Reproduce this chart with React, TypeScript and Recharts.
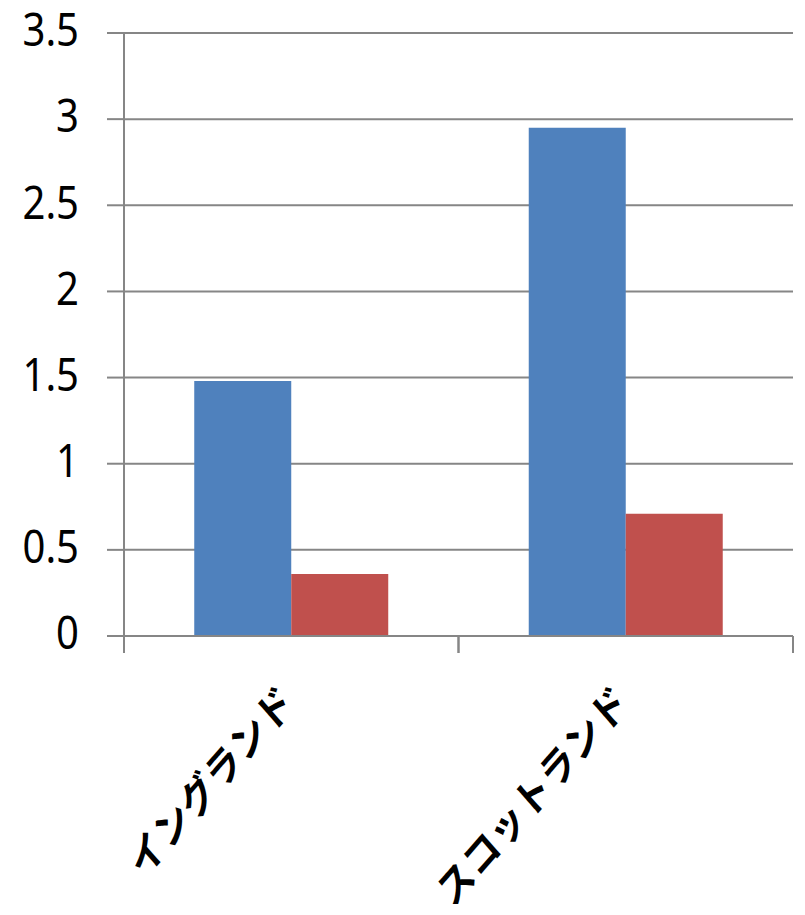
import React from "react";
import { BarChart, Bar, XAxis, YAxis, CartesianGrid } from "recharts";

const categories = ["イングランド", "スコットランド"];
const seriesA = [1.48, 2.95];
const seriesB = [0.36, 0.71];
const yTicks = [0, 0.5, 1, 1.5, 2, 2.5, 3, 3.5];

const data = categories.map((name, i) => ({ name, a: seriesA[i], b: seriesB[i] }));

const AXIS = "#868686";
const STRETCH = 1.14;

const CatTick = (props: any) => {
  const { x, y, payload } = props;
  const off = payload.offset || 0;
  const ax = x + 5;
  const ay = y + 52;
  return (
    <g>
      <line x1={x - off} x2={x - off} y1={y - 17} y2={y} stroke={AXIS} strokeWidth={2} />
      <line x1={x + off} x2={x + off} y1={y - 17} y2={y} stroke={AXIS} strokeWidth={2} />
      <text
        x={0}
        y={0}
        textAnchor="end"
        transform={`translate(${ax}, ${ay}) scale(1, ${STRETCH}) rotate(-45)`}
        fontFamily="'Noto Sans CJK JP'"
        fontWeight={700}
        fontSize={36}
        fill="#000"
      >
        {payload.value}
      </text>
    </g>
  );
};

const ValTick = (props: any) => {
  const { x, y, payload } = props;
  return (
    <text
      x={0}
      y={11.7}
      textAnchor="end"
      transform={`translate(${x}, ${y}) scale(1, ${STRETCH})`}
      fontFamily="'Noto Sans'"
      fontSize={40}
      fill="#000"
    >
      {String(payload.value)}
    </text>
  );
};

export default function App() {
  return (
    <div style={{ position: "absolute", left: 0, top: 0, background: "#fff" }}>
      <BarChart
        width={805}
        height={915}
        data={data}
        margin={{ top: 33, right: 12, bottom: 0, left: 0 }}
        barCategoryGap="21%"
        barGap={0}
      >
        <CartesianGrid vertical={false} stroke={AXIS} strokeWidth={2} />
        <XAxis
          dataKey="name"
          height={279}
          interval={0}
          tickSize={17}
          tickMargin={0}
          tickLine={false}
          axisLine={{ stroke: AXIS, strokeWidth: 2 }}
          tick={<CatTick />}
        />
        <YAxis
          width={124}
          domain={[0, 3.5]}
          ticks={yTicks}
          interval={0}
          tickSize={17}
          tickMargin={28}
          tickLine={{ stroke: AXIS, strokeWidth: 2 }}
          axisLine={{ stroke: AXIS, strokeWidth: 2 }}
          tick={<ValTick />}
        />
        <Bar dataKey="a" fill="#4F81BD" isAnimationActive={false} />
        <Bar dataKey="b" fill="#C0504D" isAnimationActive={false} />
      </BarChart>
    </div>
  );
}
